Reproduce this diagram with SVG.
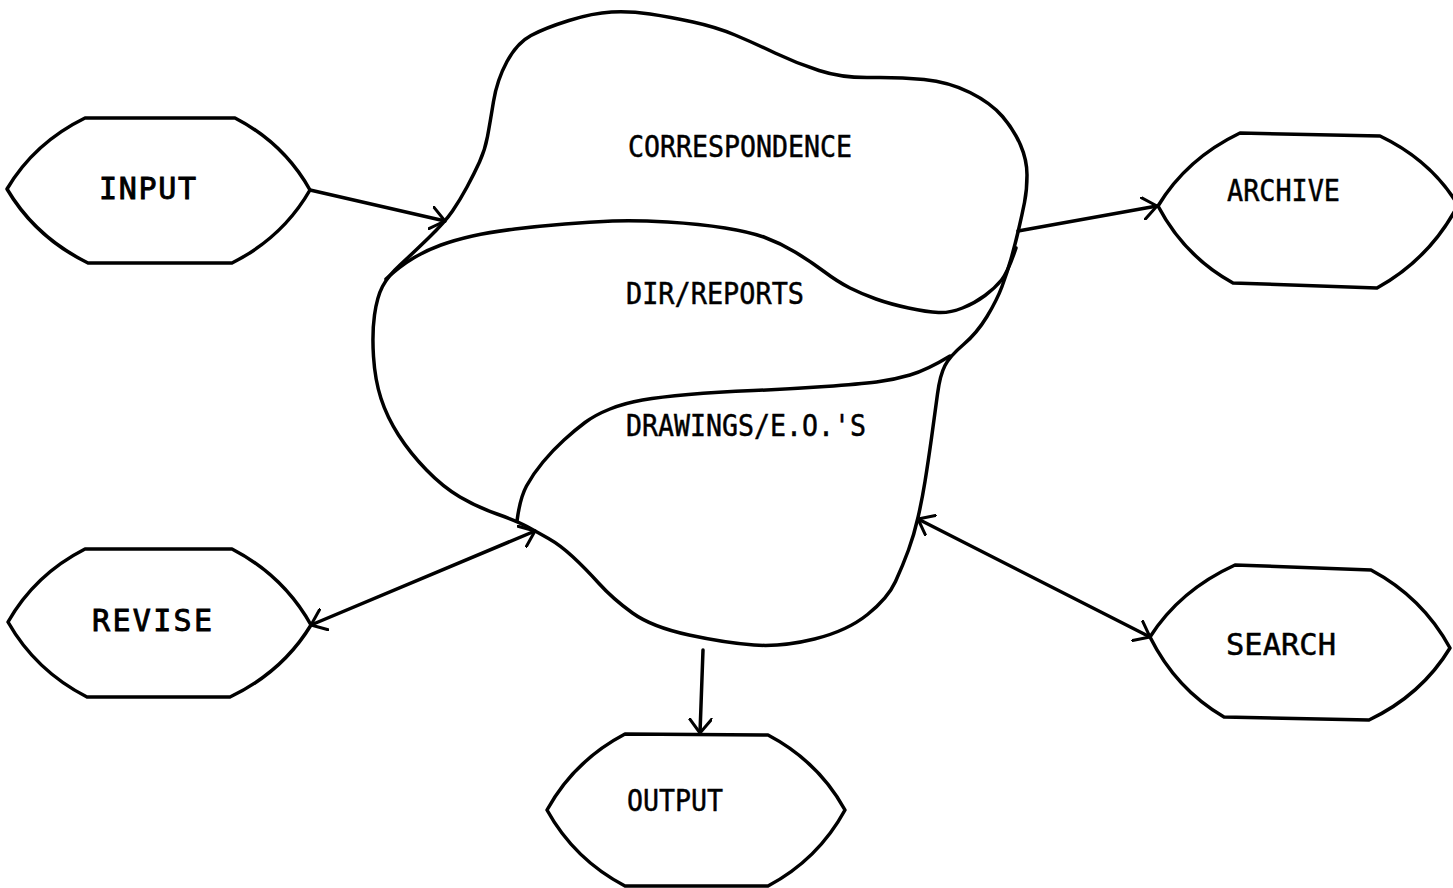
<svg xmlns="http://www.w3.org/2000/svg" width="1453" height="888" viewBox="0 0 1453 888">
<style>
.ln{fill:none;stroke:#000;stroke-width:3.5;stroke-linejoin:round;stroke-linecap:round}
.hex{fill:none;stroke:#000;stroke-width:3.5;stroke-linejoin:round}
.conn{fill:none;stroke:#000;stroke-width:3.5;stroke-linecap:round}
.lbl{font-family:"DejaVu Sans Mono","Liberation Mono",monospace;font-size:30px;fill:#000;stroke:#000;stroke-width:0.5}
.lbl2{stroke-width:0.9}
</style>
<defs>
<marker id="ah" viewBox="0 0 16 24" refX="15" refY="12" markerWidth="16" markerHeight="24" markerUnits="userSpaceOnUse" orient="auto-start-reverse">
<path d="M1,1 L15,12 L1,23" fill="none" stroke="#000" stroke-width="3" stroke-linecap="round" stroke-linejoin="round"/>
</marker>
</defs>
<rect width="1453" height="888" fill="#fff"/>
<g id="store">
<path class="ln" d="M452.5,211 Q460,200 467,187 Q474,174 479.5,162 Q485,150 487.5,136.5 Q490,123 493.5,101.5 Q497,80 507,61.5 Q517,43 531,35.5 Q545,28 569,20.5 Q593,13 611.5,12 Q630,11 650,14 Q670,17 693,22 Q716,27 735,35 Q754,43 775,53 Q796,63 819,70.5 Q842,78 870.5,77.5 Q899,77 924,79.5 Q949,82 970,92.5 Q991,103 1002.5,116.5 Q1014,130 1020.5,145 Q1027,160 1027,175 Q1027,190 1024.5,202.5 Q1022,215 1018.5,230 Q1015,245 1011,259 Q1007,273 1002,286.5 Q997,300 987,316.5 Q977,333 963.5,344.5 Q950,356 945,365.5 Q940,375 937.5,394 Q935,413 931.5,438 Q928,463 925,481.5 Q922,500 918,517.5 Q914,535 908.5,550 Q903,565 895.5,581.5 Q888,598 867.5,614.5 Q847,631 814.5,639 Q782,647 754,645 Q726,643 689,635 Q652,627 632.5,613 Q613,599 599,583.5 Q585,568 572.5,556.5 Q560,545 548.5,538.5 Q537,532 527,526.5 Q517,521 497,514 Q477,507 460,497 Q443,487 426.5,470 Q410,453 398.5,435 Q387,417 381,398.5 Q375,380 373.5,356.5 Q372,333 374.5,315 Q377,297 382.5,286.5 Q388,276 400,265 Q412,254 428.5,238 Q445,222 452.5,211 Z"/>
<path class="ln" d="M386,279 Q400,266 413.5,258 Q427,250 441,245 Q455,240 472.5,236 Q490,232 515,229 Q540,226 565,224 Q590,222 612.5,221 Q635,220 667.5,222 Q700,224 725,228 Q750,232 765,237.5 Q780,243 795,252 Q810,261 824,271.5 Q838,282 850,288 Q862,294 876,299 Q890,304 908.5,308 Q927,312 938.5,312.5 Q950,313 962.5,308 Q975,303 985,295.5 Q995,288 1001.5,280 Q1008,272 1016,248"/>
<path class="ln" d="M950,356 Q927,370 910,375 Q893,380 876.5,382 Q860,384 825,386.5 Q790,389 753.5,390.5 Q717,392 688.5,394.5 Q660,397 642.5,400 Q625,403 610,409 Q595,415 585,422.5 Q575,430 564,440 Q553,450 543,462 Q533,474 526.5,486 Q520,498 517,521"/>
<text class="lbl" x="628" y="157" textLength="224" lengthAdjust="spacingAndGlyphs">CORRESPONDENCE</text>
<text class="lbl" x="626" y="304" textLength="178" lengthAdjust="spacingAndGlyphs">DIR/REPORTS</text>
<text class="lbl" x="626" y="436" textLength="240" lengthAdjust="spacingAndGlyphs">DRAWINGS/E.O.'S</text>
</g>
<g id="input">
<path class="hex" d="M7,189 Q34.3,142.85 85,118 L235,118 Q283.75,143.2 310,190 Q282.7,237.45 232,263 L88,263 Q35.35,237.1 7,189 Z"/>
<text class="lbl lbl2" x="99" y="199" textLength="97" lengthAdjust="spacing">INPUT</text>
</g>
<g id="archive">
<path class="hex" d="M1158,206 Q1186.7,158.55 1240,133 L1380,136 Q1430.7,160.15 1458,205 Q1429.65,258.95 1377,288 L1233,283 Q1184.25,256.05 1158,206 Z"/>
<text class="lbl" x="1227" y="201" textLength="113" lengthAdjust="spacingAndGlyphs">ARCHIVE</text>
</g>
<g id="revise">
<path class="hex" d="M8,622 Q34.95,574.55 85,549 L232,549 Q283.35,575.6 311,625 Q282.65,671.8 230,697 L87,697 Q35.65,670.75 8,622 Z"/>
<text class="lbl lbl2" x="92" y="631" textLength="120" lengthAdjust="spacing">REVISE</text>
</g>
<g id="search">
<path class="hex" d="M1150,637 Q1179.75,590.2 1235,565 L1371,570 Q1422.35,597.3 1450,648 Q1421.65,694.8 1369,720 L1224,717 Q1175.9,689 1150,637 Z"/>
<text class="lbl" x="1226" y="655" textLength="110" lengthAdjust="spacingAndGlyphs">SEARCH</text>
</g>
<g id="output">
<path class="hex" d="M547,810 Q574.3,760.6 625,734 L768,735 Q818.05,761.25 845,810 Q818.05,859.4 768,886 L625,886 Q574.3,859.4 547,810 Z"/>
<text class="lbl" x="627" y="811" textLength="96" lengthAdjust="spacingAndGlyphs">OUTPUT</text>
</g>
<g id="connectors">
<path class="conn" d="M310,190 L445,221" marker-end="url(#ah)"/>
<path class="conn" d="M1018,231 L1157,206" marker-end="url(#ah)"/>
<path class="conn" d="M311,625 L535,531" marker-start="url(#ah)" marker-end="url(#ah)"/>
<path class="conn" d="M918,519 L1150,637" marker-start="url(#ah)" marker-end="url(#ah)"/>
<path class="conn" d="M703,650 L700,733" marker-end="url(#ah)"/>
</g>
</svg>
